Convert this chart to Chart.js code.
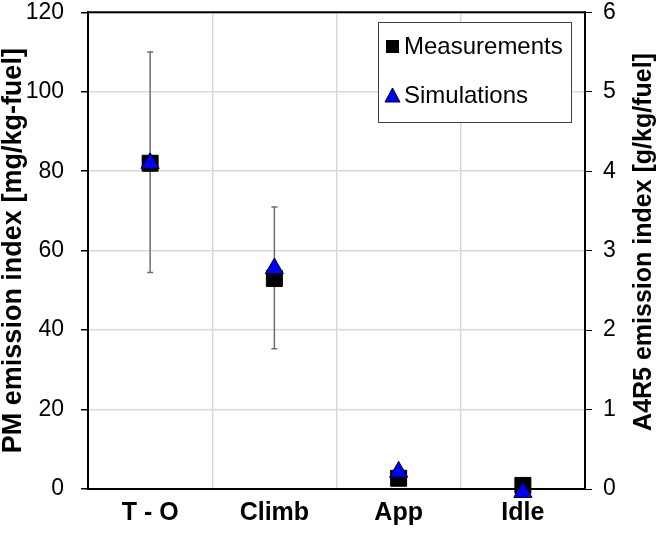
<!DOCTYPE html>
<html>
<head>
<meta charset="utf-8">
<script src="https://cdn.jsdelivr.net/npm/chart.js@4"></script>
<style>
  body { margin: 0; background: #fff; }
  canvas { display: block; }
</style>
</head>
<body>
<canvas id="myChart" width="657" height="535"></canvas>
<script>
const categories = ['T - O', 'Climb', 'App', 'Idle'];
const measurements = [82, 53, 2.7, 0.9];
const measErrLow = [54.5, 35.3, null, null];
const measErrHigh = [110, 71, null, null];
const simulations = [82, 55.5, 4.3, -0.8];
const pmTicks = [0, 20, 40, 60, 80, 100, 120];
const a4r5Ticks = [0, 1, 2, 3, 4, 5, 6];

const FONT = 'Arial, "Liberation Sans", sans-serif';

// error bars for the measurements, drawn under the markers
const errorBars = {
    id: 'errorBars',
    beforeDatasetsDraw(chart) {
        const c = chart.ctx;
        const x = chart.scales.x, y = chart.scales.y;
        c.save();
        c.strokeStyle = '#6e6e6e';
        c.lineWidth = 1.5;
        for (let i = 0; i < categories.length; i++) {
            if (measErrLow[i] == null) continue;
            const px = x.getPixelForValue(i);
            const top = y.getPixelForValue(measErrHigh[i]);
            const bot = y.getPixelForValue(measErrLow[i]);
            c.beginPath();
            c.moveTo(px, top); c.lineTo(px, bot);
            c.moveTo(px - 3, top); c.lineTo(px + 3, top);
            c.moveTo(px - 3, bot); c.lineTo(px + 3, bot);
            c.stroke();
        }
        c.restore();
    }
};

// top frame line, right axis title and the boxed legend
const extras = {
    id: 'extras',
    afterDraw(chart) {
        const c = chart.ctx;
        const a = chart.chartArea;
        c.save();
        c.strokeStyle = '#000';
        c.lineWidth = 2;
        c.beginPath();
        c.moveTo(a.left, a.top); c.lineTo(a.right, a.top);
        c.stroke();

        c.fillStyle = '#000';
        c.font = 'bold 25px ' + FONT;
        c.textAlign = 'center';
        c.textBaseline = 'middle';
        c.translate(644, 242);
        c.rotate(-Math.PI / 2);
        c.fillText('A4R5 emission index [g/kg/fuel]', 0, 0);
        c.restore();

        // legend
        c.save();
        c.fillStyle = '#fff';
        c.fillRect(378, 22, 193, 100);
        c.strokeStyle = '#404040';
        c.lineWidth = 1;
        c.strokeRect(378.5, 22.5, 193, 100);
        c.fillStyle = '#000';
        c.fillRect(386, 40, 13, 13);
        c.beginPath();
        c.moveTo(392.5, 88); c.lineTo(400, 102); c.lineTo(385, 102); c.closePath();
        c.fillStyle = '#0000ff';
        c.fill();
        c.strokeStyle = '#000';
        c.stroke();
        c.fillStyle = '#000';
        c.font = '24px ' + FONT;
        c.textAlign = 'left';
        c.textBaseline = 'middle';
        c.fillText('Measurements', 404, 47);
        c.fillText('Simulations', 404, 96);
        c.restore();
    }
};

const ctx = document.getElementById('myChart').getContext('2d');
const myChart = new Chart(ctx, {
    type: 'line',
    data: {
        labels: categories,
        datasets: [{
            label: 'Simulations',
            data: simulations,
            showLine: false,
            pointStyle: 'triangle',
            pointRadius: 10.5,
            pointHoverRadius: 10.5,
            backgroundColor: '#0000ff',
            borderColor: '#000',
            borderWidth: 1,
            yAxisID: 'y',
            order: 0,
            clip: false
        }, {
            label: 'Measurements',
            data: measurements,
            showLine: false,
            pointStyle: 'rect',
            pointRadius: 11.3,
            pointHoverRadius: 11.3,
            backgroundColor: '#000',
            borderColor: '#000',
            borderWidth: 1,
            yAxisID: 'y',
            order: 1,
            clip: false
        }]
    },
    options: {
        responsive: false,
        animation: false,
        layout: { padding: { top: 11, left: 0, right: 0, bottom: 0 } },
        plugins: {
            legend: { display: false },
            tooltip: { enabled: false }
        },
        scales: {
            x: {
                offset: true,
                grid: { offset: true, color: '#d9d9d9', lineWidth: 1.5, drawTicks: false },
                border: { color: '#000', width: 2 },
                ticks: { color: '#000', padding: 9, font: { family: FONT, size: 25, weight: 'bold' } },
                afterFit(s) { s.height = 46; }
            },
            y: {
                position: 'left',
                min: 0,
                max: 120,
                afterBuildTicks(s) { s.ticks = pmTicks.map(v => ({ value: v })); },
                grid: { color: '#d9d9d9', lineWidth: 1.5, tickColor: '#000', tickLength: 7 },
                border: { color: '#000', width: 2 },
                ticks: { color: '#000', padding: 17, font: { family: FONT, size: 23, lineHeight: 1 } },
                title: {
                    display: true,
                    text: 'PM emission index [mg/kg-fuel]',
                    color: '#000',
                    padding: 0,
                    font: { family: FONT, size: 27, weight: 'bold', lineHeight: 1 }
                },
                afterFit(s) { s.width = 88; s.paddingTop = 11; s.paddingBottom = 11; }
            },
            y2: {
                position: 'right',
                min: 0,
                max: 6,
                afterBuildTicks(s) { s.ticks = a4r5Ticks.map(v => ({ value: v })); },
                grid: { drawOnChartArea: false, tickColor: '#000', tickLength: 7 },
                border: { color: '#000', width: 2 },
                ticks: { color: '#000', padding: 11, font: { family: FONT, size: 23, lineHeight: 1 } },
                afterFit(s) { s.width = 72; s.paddingTop = 11; s.paddingBottom = 11; }
            }
        }
    },
    plugins: [errorBars, extras]
});
</script>
</body>
</html>
